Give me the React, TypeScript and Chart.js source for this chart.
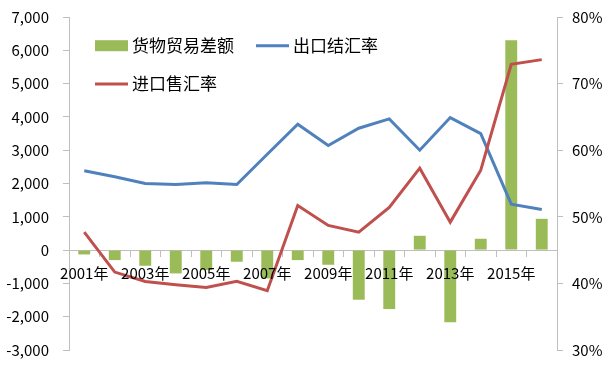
import React, { useEffect, useRef } from "react";
import { Chart, registerables } from "chart.js";

Chart.register(...registerables);

const categories = [
  "2001年", "2002年", "2003年", "2004年", "2005年", "2006年", "2007年", "2008年",
  "2009年", "2010年", "2011年", "2012年", "2013年", "2014年", "2015年", "2016年",
];
const tradeBalance = [-130, -300, -470, -700, -600, -350, -850, -300, -440, -1490, -1770, 430, -2170, 340, 6300, 940];
const exportSettleRate = [56.9, 56.0, 55.0, 54.85, 55.1, 54.85, 59.4, 63.9, 60.7, 63.3, 64.7, 60.0, 64.9, 62.5, 51.9, 51.1];
const importSaleRate = [47.7, 41.7, 40.3, 39.8, 39.4, 40.3, 38.9, 51.7, 48.7, 47.7, 51.4, 57.3, 49.2, 57.0, 72.9, 73.6];
const seriesNames = ["货物贸易差额", "出口结汇率", "进口售汇率"];

const GREEN = "#9BBB59";
const BLUE = "#4F81BD";
const RED = "#C0504D";
const AXIS = "#BFBFBF";
const FONT = "'Noto Sans CJK SC', 'Noto Sans', sans-serif";

const legendPlugin = {
  id: "insideLegend",
  afterDraw(chart: any) {
    const ctx = chart.ctx as CanvasRenderingContext2D;
    const ds = chart.data.datasets;
    const rows = [[0, 1], [2]];
    const startX = chart.chartArea.left + 26;
    const rowY = [45.7, 84];
    ctx.save();
    ctx.font = `17px ${FONT}`;
    ctx.textBaseline = "middle";
    ctx.fillStyle = "#000";
    rows.forEach((row, r) => {
      let x = startX;
      const y = rowY[r];
      row.forEach((i) => {
        const d = ds[i];
        if (d.type === "bar") {
          ctx.fillStyle = d.backgroundColor;
          ctx.fillRect(x, y - 5.5, 33, 11);
        } else {
          ctx.strokeStyle = d.borderColor;
          ctx.lineWidth = 3;
          ctx.beginPath();
          ctx.moveTo(x, y);
          ctx.lineTo(x + 33, y);
          ctx.stroke();
        }
        ctx.fillStyle = "#000";
        const tx = x + 37;
        ctx.fillText(d.label, tx, y);
        x = tx + ctx.measureText(d.label).width + 22;
      });
    });
    ctx.restore();
  },
};

const noVerticalPadding = (s: any, w: number) => {
  s.width = w;
  s.paddingTop = 0;
  s.paddingBottom = 0;
};

export default function App() {
  const ref = useRef<HTMLCanvasElement | null>(null);
  useEffect(() => {
    document.body.style.margin = "0";
    if (!ref.current) return;
    Chart.defaults.font.family = FONT;
    const chart = new Chart(ref.current, {
      type: "bar",
      data: {
        labels: categories,
        datasets: [
          {
            type: "bar",
            label: seriesNames[0],
            data: tradeBalance,
            backgroundColor: GREEN,
            yAxisID: "y",
            barPercentage: 0.39,
            categoryPercentage: 1,
            order: 2,
          } as any,
          {
            type: "line",
            label: seriesNames[1],
            data: exportSettleRate,
            borderColor: BLUE,
            backgroundColor: BLUE,
            borderWidth: 3,
            pointRadius: 0,
            tension: 0,
            yAxisID: "y1",
            order: 1,
          },
          {
            type: "line",
            label: seriesNames[2],
            data: importSaleRate,
            borderColor: RED,
            backgroundColor: RED,
            borderWidth: 3,
            pointRadius: 0,
            tension: 0,
            yAxisID: "y1",
            order: 0,
          },
        ],
      },
      options: {
        responsive: false,
        animation: false,
        layout: { padding: { left: 0, right: 0, top: 17, bottom: 17 } },
        plugins: { legend: { display: false }, tooltip: { enabled: false } },
        scales: {
          x: {
            position: { y: 0 } as any,
            offset: true,
            grid: {
              display: true,
              drawOnChartArea: false,
              drawTicks: true,
              tickLength: 6,
              color: AXIS,
              offset: true,
            },
            border: { display: true, color: AXIS, width: 1 },
            ticks: {
              z: 1,
              autoSkip: false,
              maxRotation: 0,
              minRotation: 0,
              padding: 8,
              color: "#000",
              font: { size: 15, family: FONT },
              callback: (_v: any, i: number) => (i % 2 === 0 ? categories[i] : ""),
            },
          } as any,
          y: {
            position: "left",
            min: -3000,
            max: 7000,
            grid: {
              display: true,
              drawOnChartArea: false,
              drawTicks: true,
              tickLength: 6,
              color: AXIS,
            },
            border: { display: true, color: AXIS, width: 1 },
            ticks: {
              stepSize: 1000,
              padding: 14,
              color: "#000",
              font: { size: 15, family: FONT },
              callback: (v: any) => Number(v).toLocaleString("en-US"),
            },
            afterFit: (s: any) => noVerticalPadding(s, 69),
          },
          y1: {
            position: "right",
            min: 30,
            max: 80,
            grid: {
              display: true,
              drawOnChartArea: false,
              drawTicks: true,
              tickLength: 6,
              color: AXIS,
            },
            border: { display: true, color: AXIS, width: 1 },
            ticks: {
              stepSize: 10,
              padding: 9,
              color: "#000",
              font: { size: 15, family: FONT },
              callback: (v: any) => `${v}%`,
            },
            afterFit: (s: any) => noVerticalPadding(s, 49),
          },
        },
      },
      plugins: [legendPlugin],
    });
    return () => chart.destroy();
  }, []);
  return (
    <div style={{ position: "absolute", left: 0, top: 0, width: 606, height: 367, background: "#fff" }}>
      <canvas ref={ref} width={606} height={367} />
    </div>
  );
}
